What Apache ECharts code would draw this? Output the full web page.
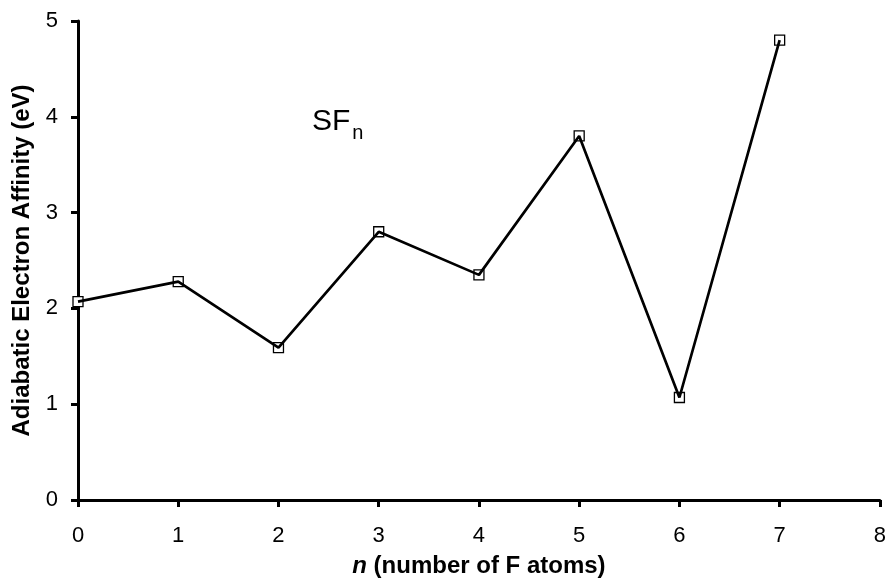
<!DOCTYPE html>
<html>
<head>
<meta charset="utf-8">
<script src="https://cdn.jsdelivr.net/npm/echarts@6/dist/echarts.min.js"></script>
<style>
  html, body { margin: 0; padding: 0; background: #fff; }
  #chart { width: 889px; height: 587px; }
</style>
</head>
<body>
<div id="chart"></div>
<script>
// Number of F atoms in SF_n
var atomCounts = [0, 1, 2, 3, 4, 5, 6, 7];
// Adiabatic electron affinity (eV)
var affinities = [2.07, 2.28, 1.59, 2.80, 2.35, 3.80, 1.07, 4.80];
var xTicks = [0, 1, 2, 3, 4, 5, 6, 7, 8];
var yTicks = [0, 1, 2, 3, 4, 5];

var FONT = 'Liberation Sans, Arial, sans-serif';
var points = atomCounts.map(function (n, i) { return [n, affinities[i]]; });

var chart = echarts.init(document.getElementById('chart'), null, { renderer: 'canvas' });
chart.setOption({
  backgroundColor: '#ffffff',
  animation: false,
  grid: { left: 78, right: 8, top: 21, bottom: 87, containLabel: false },
  xAxis: {
    type: 'value',
    min: xTicks[0],
    max: xTicks[xTicks.length - 1],
    interval: 1,
    name: '{i|n} (number of F atoms)',
    nameLocation: 'middle',
    nameGap: 54,
    nameTextStyle: {
      fontFamily: FONT, fontSize: 24, fontWeight: 'bold', color: '#000',
      rich: { i: { fontFamily: FONT, fontSize: 24, fontWeight: 'bold', fontStyle: 'italic', color: '#000' } }
    },
    axisLine: { show: true, onZero: false, lineStyle: { color: '#000', width: 3 } },
    axisTick: { show: true, inside: false, length: 7, lineStyle: { color: '#000', width: 3 } },
    axisLabel: { fontFamily: FONT, fontSize: 22, color: '#000', margin: 25 },
    splitLine: { show: false }
  },
  yAxis: {
    type: 'value',
    min: yTicks[0],
    max: yTicks[yTicks.length - 1],
    interval: 1,
    name: 'Adiabatic Electron Affinity (eV)',
    nameLocation: 'middle',
    nameGap: 44,
    nameTextStyle: { fontFamily: FONT, fontSize: 24, fontWeight: 'bold', color: '#000' },
    axisLine: { show: true, lineStyle: { color: '#000', width: 3 } },
    axisTick: { show: true, inside: false, length: 7, lineStyle: { color: '#000', width: 3 } },
    axisLabel: { fontFamily: FONT, fontSize: 22, color: '#000', margin: 20 },
    splitLine: { show: false }
  },
  series: [{
    // open square markers, drawn beneath the connecting line
    type: 'scatter',
    data: points,
    symbol: 'rect',
    symbolSize: 10,
    itemStyle: { color: '#fff', borderColor: '#000', borderWidth: 1.3, opacity: 1 },
    z: 2
  }, {
    type: 'line',
    data: points,
    symbol: 'none',
    lineStyle: { color: '#000', width: 2.7 },
    z: 3
  }],
  graphic: [{
    type: 'text',
    left: 312,
    top: 107,
    style: {
      text: '{a|SF}{b|n}',
      rich: {
        a: { fontFamily: FONT, fontSize: 30, color: '#000' },
        b: { fontFamily: FONT, fontSize: 20, color: '#000', padding: [23, 0, 0, 2] }
      }
    }
  }]
});
</script>
</body>
</html>
